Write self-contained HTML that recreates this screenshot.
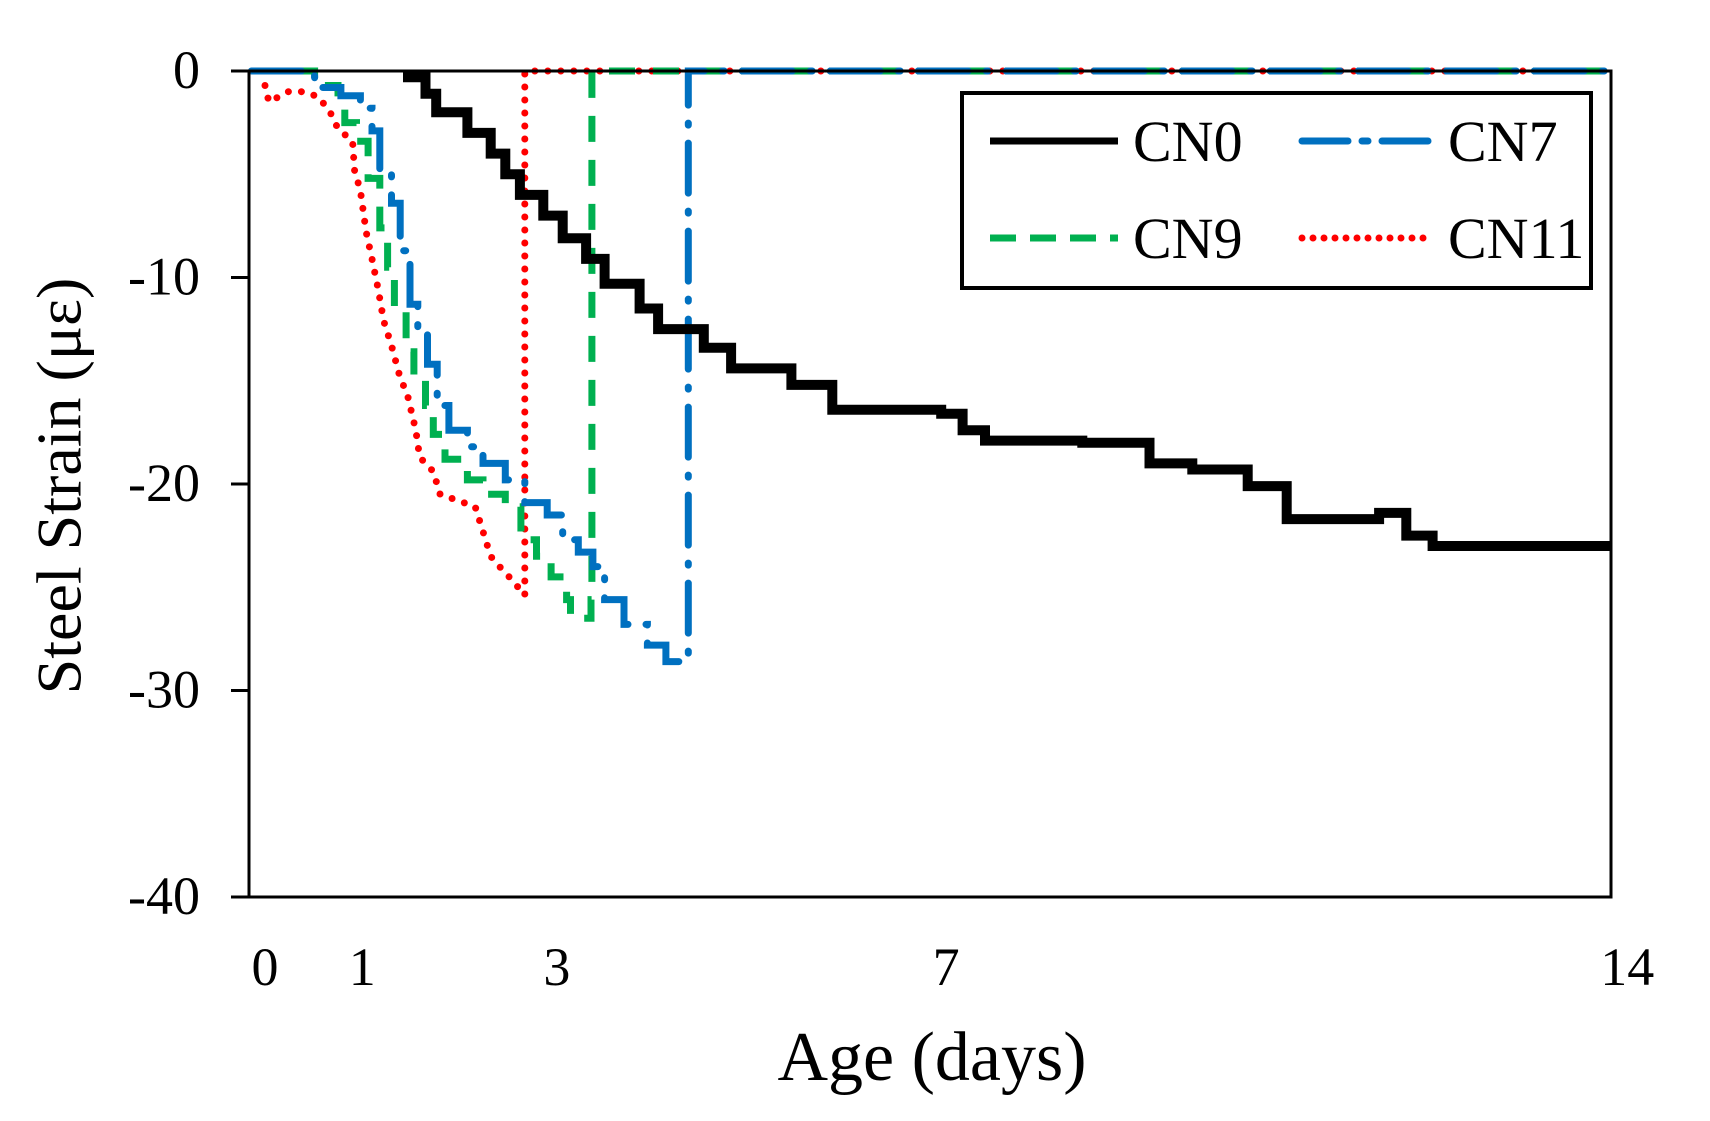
<!DOCTYPE html>
<html><head><meta charset="utf-8"><style>
html,body{margin:0;padding:0;background:#fff;}
svg{display:block;font-family:"Liberation Serif","DejaVu Serif",serif;}
</style></head><body>
<svg id="chart" width="1710" height="1121" viewBox="0 0 1710 1121" xmlns="http://www.w3.org/2000/svg">
<g id="series"></g>
<g id="axes"></g>
<text x="66" y="486" font-size="64" text-anchor="middle" transform="rotate(-90 66 486)" dominant-baseline="middle">Steel Strain (με)</text>
<text x="932" y="1080" font-size="70" text-anchor="middle">Age (days)</text>
<g>
<rect x="962" y="93" width="629" height="195" fill="#fff" stroke="#000" stroke-width="4"/>
<g><line x1="990" y1="141" x2="1118" y2="141" stroke="#000" stroke-width="7"/><text x="1133" y="161" font-size="58">CN0</text></g>
<g><line x1="1302" y1="141" x2="1434" y2="141" stroke="#0070c0" stroke-width="7" stroke-dasharray="46 14 6 14" stroke-linecap="round"/><text x="1448" y="161" font-size="58">CN7</text></g>
<g><line x1="990" y1="238" x2="1118" y2="238" stroke="#00b050" stroke-width="7" stroke-dasharray="26 14"/><text x="1133" y="258" font-size="58">CN9</text></g>
<g><line x1="1302" y1="238" x2="1434" y2="238" stroke="#ff0000" stroke-width="7" stroke-dasharray="0 11" stroke-linecap="round"/><text x="1448" y="258" font-size="58">CN11</text></g>
</g>
</svg>
<script>
const yTicks = [0, -10, -20, -30, -40];
const xTicks = [0, 1, 3, 7, 14];
const cn0Days = [1.47,1.47,1.65,1.76,2.08,2.32,2.47,2.62,2.86,3.06,3.3,3.49,3.85,4.04,4.51,4.79,5.41,5.83,6.95,7.17,7.4,8.4,9.09,9.53,10.1,10.5,11.45,11.73,12.0,13.85];
const cn0Strain = [0,-0.3,-1.1,-2,-3,-4,-5,-6,-7,-8.1,-9.1,-10.3,-11.5,-12.5,-13.4,-14.4,-15.2,-16.4,-16.6,-17.4,-17.9,-18,-19,-19.3,-20.1,-21.7,-21.4,-22.5,-23,-23];
const cn9Days = [-0.14,0.5,0.51,0.75,0.82,0.94,1.06,1.18,1.26,1.33,1.45,1.53,1.65,1.73,1.85,2.08,2.24,2.47,2.63,2.79,2.94,3.1,3.14,3.3,3.35,3.36,3.36,13.85];
const cn9Strain = [0,0,-0.7,-1.06,-2.5,-3.4,-5.2,-7.6,-9.5,-11.5,-13.6,-15,-16.2,-17.6,-18.8,-19.8,-20.5,-21.1,-22.7,-23.5,-24.5,-25.6,-26.5,-26.5,-25.6,-25.6,0,0];
const cn7Days = [-0.14,0.5,0.51,0.78,0.98,1.1,1.18,1.18,1.3,1.39,1.49,1.57,1.67,1.77,1.89,2.08,2.24,2.47,2.67,2.9,3.06,3.22,3.37,3.42,3.49,3.65,3.69,3.85,3.93,4.12,4.35,4.35,13.85];
const cn7Strain = [0,0,-0.8,-1.2,-1.8,-2.9,-3.4,-4.8,-6.4,-8.7,-11.3,-12.7,-14.2,-16.2,-17.4,-18.2,-19,-19.8,-20.9,-21.5,-22.7,-23.3,-24,-24.5,-25.6,-25.6,-26.8,-26.8,-27.8,-28.6,-28.6,0,0];
const cn11Days = [0.0,0.04,0.24,0.39,0.55,0.67,0.75,0.9,0.92,0.98,1.04,1.1,1.16,1.22,1.3,1.38,1.47,1.55,1.59,1.73,1.8,2.16,2.24,2.32,2.43,2.55,2.67,2.67,13.85];
const cn11Strain = [-0.7,-1.5,-1,-1,-1.25,-2,-2.8,-3.4,-4.8,-5.8,-7.8,-9.1,-10.5,-12.1,-13.3,-14.7,-15.8,-17.4,-18.7,-19.4,-20.5,-21.1,-22.3,-23.5,-24.1,-24.7,-25.4,0,0];

const NS = 'http://www.w3.org/2000/svg';
const X0 = 249, X1 = 1611, Y0 = 71, Y1 = 897;
function xs(d){ return 265 + d * 97.3; }
function ys(v){ return Y0 - v * (Y1 - Y0) / 40; }
function mk(tag, attrs, parent){ const e=document.createElementNS(NS,tag); for(const k in attrs) e.setAttribute(k,attrs[k]); parent.appendChild(e); return e; }
const sg = document.getElementById('series');
const ag = document.getElementById('axes');

function drawSeries(days, vals, color, width, dash, cap, name, step){
  let d = '';
  for(let i=0;i<days.length;i++){
    const x = Math.min(xs(days[i]), X1).toFixed(1), y = ys(vals[i]).toFixed(1);
    if(i===0){ d += 'M'+x+' '+y; continue; }
    if(step){ d += 'L'+x+' '+ys(vals[i-1]).toFixed(1); }
    d += 'L'+x+' '+y;
  }
  const p = mk('path',{d:d,fill:'none',stroke:color,'stroke-width':width,'stroke-dasharray':dash,'stroke-linecap':cap,'stroke-linejoin':'miter'},sg);
  
  
}
drawSeries(cn11Days, cn11Strain, '#ff0000', 7, '0 13', 'round', 'series-cn11', false);
drawSeries(cn9Days, cn9Strain, '#00b050', 7, '26 18', 'butt', 'series-cn9', true);
drawSeries(cn7Days, cn7Strain, '#0070c0', 7, '50 18 2 18', 'round', 'series-cn7', true);
drawSeries(cn0Days, cn0Strain, '#000000', 10, 'none', 'butt', 'series-cn0', true);

const fr = mk('rect',{x:X0,y:Y0,width:X1-X0,height:Y1-Y0,fill:'none',stroke:'#000','stroke-width':3},ag);


yTicks.forEach(v=>{
  const t = mk('line',{x1:231,x2:X0,y1:ys(v),y2:ys(v),stroke:'#000','stroke-width':3},ag);
  
  
  const l = mk('text',{x:200,y:ys(v)+17,'font-size':54,'text-anchor':'end'},ag);
  l.textContent = String(v);
  
  
});
xTicks.forEach(v=>{
  const l = mk('text',{x:xs(v),y:985,'font-size':54,'text-anchor':'middle'},ag);
  l.textContent = String(v);
  
  
});
</script>
</body></html>
